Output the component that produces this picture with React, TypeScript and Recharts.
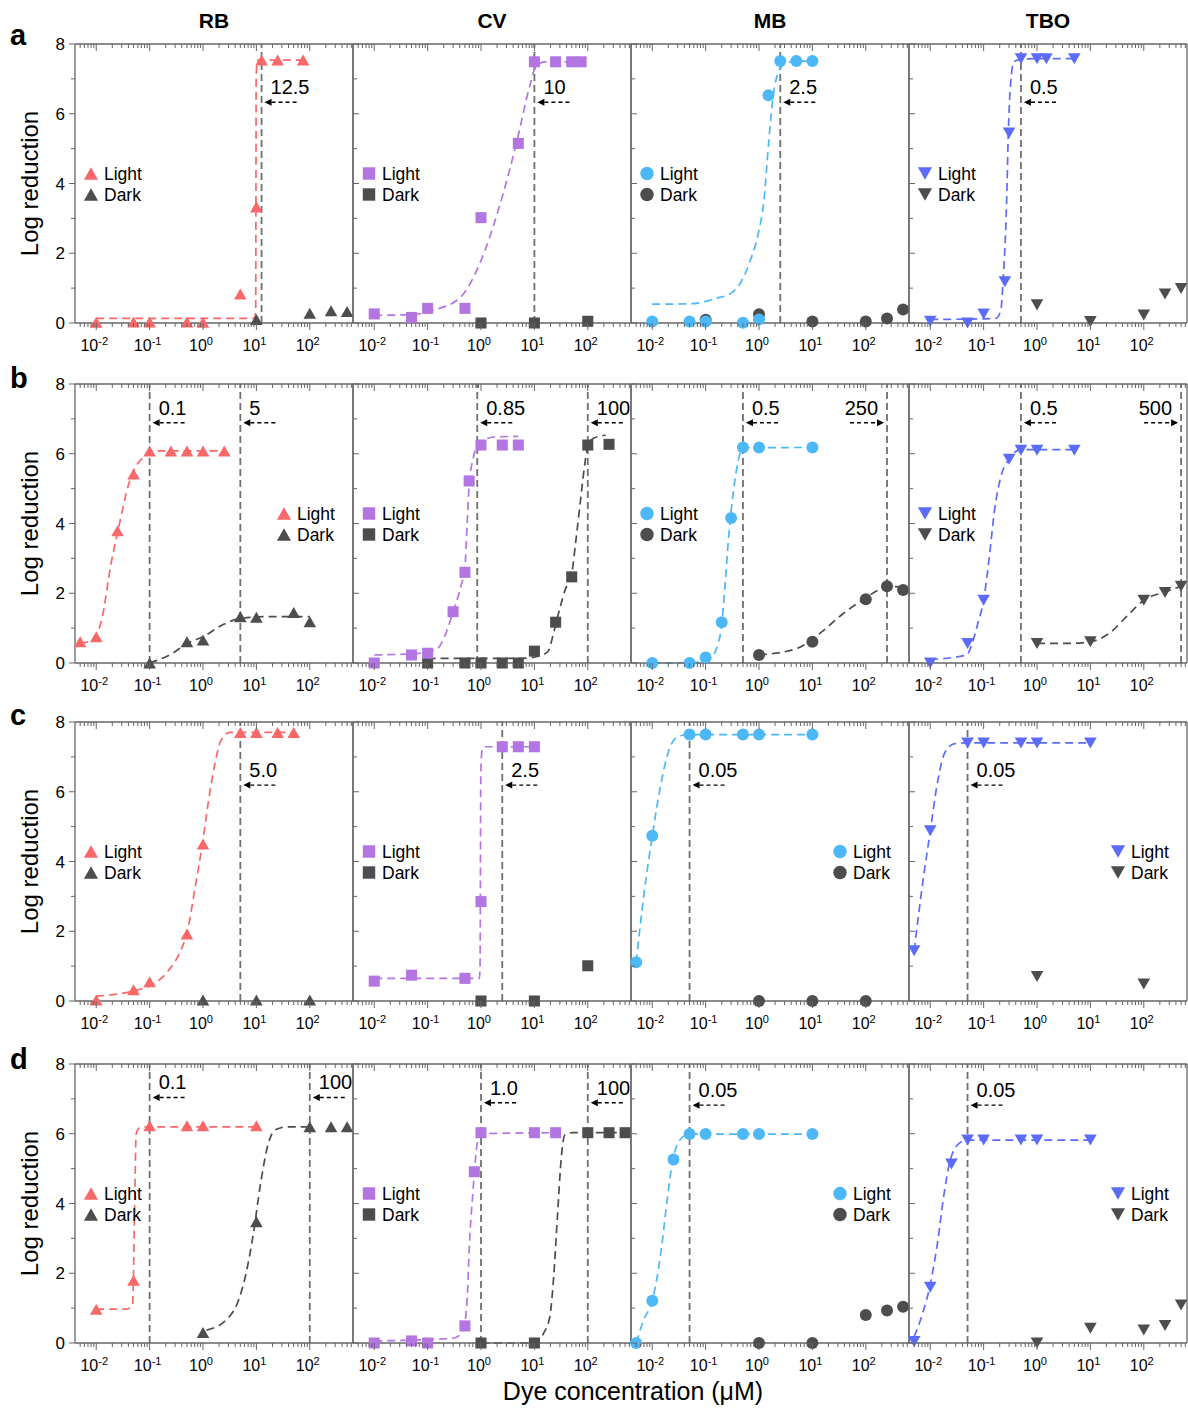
import React from "react";
import { ComposedChart, Line, Scatter, XAxis, YAxis, ReferenceLine } from "recharts";

type Pt = [number, number];

// ---- row a ----
const rbA_light: Pt[] = [[0.01, 0.02], [0.05, 0.03], [0.1, 0.03], [0.5, 0.03], [1, 0.02], [5, 0.83], [10, 3.33], [12.5, 7.54], [25, 7.54], [75, 7.54]];
const rbA_dark: Pt[] = [[10, 0.1], [100, 0.28], [250, 0.35], [500, 0.33]];
const rbA_fit: Pt[] = [[0.01, 0.13], [1, 0.13], [9.2, 0.13], [9.7, 0.35], [9.8, 3.5], [9.9, 7.1], [10.6, 7.54], [25, 7.54], [75, 7.54]];

const cvA_light: Pt[] = [[0.01, 0.26], [0.05, 0.16], [0.1, 0.42], [0.5, 0.42], [1, 3.02], [5, 5.15], [10, 7.49], [25, 7.49], [50, 7.49], [75, 7.49]];
const cvA_dark: Pt[] = [[1, 0], [10, 0], [100, 0.05]];
const cvA_fit: Pt[] = [[0.01, 0.22], [0.05, 0.24], [0.13, 0.37], [0.42, 0.75], [0.95, 1.71], [2.2, 3.33], [4.6, 5.15], [8.1, 6.77], [10.3, 7.3], [15.6, 7.49], [25, 7.49], [75, 7.49]];

const mbA_light: Pt[] = [[0.01, 0.04], [0.05, 0.04], [0.1, 0.04], [0.5, 0.01], [1, 0.1], [1.5, 6.53], [2.5, 7.51], [5, 7.51], [10, 7.51]];
const mbA_dark: Pt[] = [[0.1, 0.09], [1, 0.25], [10, 0.04], [100, 0.04], [250, 0.13], [500, 0.39]];
const mbA_fit: Pt[] = [[0.01, 0.54], [0.05, 0.55], [0.16, 0.71], [0.31, 0.87], [0.5, 1.28], [0.69, 1.8], [0.97, 2.57], [1.24, 3.52], [1.53, 5.24], [1.87, 6.58], [2.4, 7.25], [3.1, 7.44], [5, 7.51], [10, 7.51]];

const tboA_light: Pt[] = [[0.01, 0.05], [0.05, 0], [0.1, 0.26], [0.25, 1.18], [0.3, 5.45], [0.5, 7.58], [1, 7.58], [1.5, 7.58], [5, 7.58]];
const tboA_dark: Pt[] = [[1, 0.52], [10, 0.04], [100, 0.23], [250, 0.83], [500, 0.99]];
const tboA_fit: Pt[] = [[0.01, 0.1], [0.17, 0.13], [0.21, 0.37], [0.23, 1.14], [0.27, 3.52], [0.29, 5.44], [0.32, 6.87], [0.37, 7.49], [0.5, 7.56], [1, 7.58], [5, 7.58]];

// ---- row b ----
const rbB_light: Pt[] = [[0.005, 0.61], [0.01, 0.75], [0.025, 3.79], [0.05, 5.42], [0.1, 6.08], [0.25, 6.08], [0.5, 6.08], [1, 6.08], [2.5, 6.08]];
const rbB_dark: Pt[] = [[0.1, 0], [0.5, 0.61], [1, 0.66], [5, 1.33], [10, 1.31], [50, 1.45], [100, 1.18]];
const rbB_fit: Pt[] = [[0.005, 0.56], [0.0083, 0.66], [0.0126, 1.23], [0.019, 2.86], [0.0265, 3.91], [0.04, 5.1], [0.06, 5.72], [0.085, 5.96], [0.11, 6.08], [2.5, 6.08]];
const rbB_darkFit: Pt[] = [[0.1, 0], [0.27, 0.28], [0.5, 0.56], [1, 0.75], [2.3, 1.09], [5, 1.28], [16.7, 1.33], [100, 1.33]];

const cvB_light: Pt[] = [[0.01, 0], [0.05, 0.23], [0.1, 0.28], [0.3, 1.47], [0.5, 2.6], [0.6, 5.22], [1, 6.25], [2.5, 6.25], [5, 6.25]];
const cvB_dark: Pt[] = [[0.1, 0], [0.5, 0], [1, 0], [2.5, 0], [5, 0], [10, 0.34], [25, 1.17], [50, 2.47], [100, 6.25], [250, 6.27]];
const cvB_fit: Pt[] = [[0.01, 0.23], [0.076, 0.28], [0.15, 0.4], [0.22, 0.85], [0.3, 1.47], [0.42, 2.2], [0.5, 2.75], [0.55, 4.0], [0.6, 5.1], [0.72, 5.9], [0.91, 6.3], [1.8, 6.48], [5, 6.5]];
const cvB_darkFit: Pt[] = [[0.1, 0.13], [5, 0.13], [10, 0.17], [17.8, 0.32], [22.8, 0.85], [29.4, 1.52], [37.5, 2.09], [50, 2.57], [61, 3.62], [72, 4.58], [85, 5.53], [100, 6.2], [130, 6.45], [217, 6.53]];

const mbB_light: Pt[] = [[0.01, 0], [0.05, 0], [0.1, 0.16], [0.2, 1.17], [0.3, 4.16], [0.5, 6.18], [1, 6.18], [10, 6.18]];
const mbB_dark: Pt[] = [[1, 0.23], [10, 0.61], [100, 1.83], [250, 2.2], [500, 2.09]];
const mbB_fit: Pt[] = [[0.01, 0], [0.083, 0.02], [0.13, 0.18], [0.19, 0.85], [0.23, 2.19], [0.27, 3.62], [0.34, 5.05], [0.42, 5.89], [0.5, 6.17], [10, 6.18]];
const mbB_darkFit: Pt[] = [[1, 0.23], [5.2, 0.42], [13.8, 0.85], [38, 1.42], [86, 1.8], [195, 2.12], [378, 2.19], [500, 2.16]];

const tboB_light: Pt[] = [[0.01, 0], [0.05, 0.56], [0.1, 1.8], [0.3, 5.84], [0.5, 6.1], [1, 6.1], [5, 6.1]];
const tboB_dark: Pt[] = [[1, 0.56], [10, 0.61], [100, 1.8], [250, 2.02], [500, 2.2]];
const tboB_fit: Pt[] = [[0.01, 0.1], [0.048, 0.23], [0.061, 0.56], [0.078, 1.14], [0.1, 1.8], [0.13, 3.14], [0.16, 4.38], [0.21, 5.34], [0.3, 5.85], [0.5, 6.12], [5, 6.12]];
const tboB_darkFit: Pt[] = [[1, 0.56], [3.6, 0.56], [10, 0.61], [22.5, 0.85], [51, 1.38], [100, 1.8], [250, 2.04], [500, 2.2]];

// ---- row c ----
const rbC_light: Pt[] = [[0.01, 0.03], [0.05, 0.32], [0.1, 0.55], [0.5, 1.92], [1, 4.5], [5, 7.7], [10, 7.7], [25, 7.7], [50, 7.7]];
const rbC_dark: Pt[] = [[1, 0.03], [10, 0.03], [100, 0.03]];
const rbC_fit: Pt[] = [[0.01, 0.14], [0.05, 0.29], [0.12, 0.49], [0.23, 0.89], [0.37, 1.4], [0.5, 1.95], [0.72, 3.3], [1, 4.62], [1.29, 5.82], [1.66, 6.78], [2.14, 7.45], [3.2, 7.7], [50, 7.7]];

const cvC_light: Pt[] = [[0.01, 0.57], [0.05, 0.74], [0.5, 0.65], [1, 2.85], [2.5, 7.29], [5, 7.29], [10, 7.29]];
const cvC_dark: Pt[] = [[1, 0], [10, 0], [100, 1.01]];
const cvC_fit: Pt[] = [[0.01, 0.65], [0.93, 0.65], [0.96, 1.0], [0.975, 3.5], [0.99, 6.5], [1.05, 7.22], [1.17, 7.29], [10, 7.29]];

const mbC_light: Pt[] = [[0.005, 1.11], [0.01, 4.74], [0.05, 7.64], [0.1, 7.64], [0.5, 7.64], [1, 7.64], [10, 7.64]];
const mbC_dark: Pt[] = [[1, 0], [10, 0], [100, 0]];
const mbC_fit: Pt[] = [[0.005, 1.11], [0.0069, 2.99], [0.01, 4.72], [0.0146, 6.24], [0.0205, 7.19], [0.031, 7.59], [0.05, 7.64], [10, 7.64]];

const tboC_light: Pt[] = [[0.005, 1.44], [0.01, 4.88], [0.05, 7.4], [0.1, 7.4], [0.5, 7.4], [1, 7.4], [10, 7.4]];
const tboC_dark: Pt[] = [[1, 0.7], [100, 0.49]];
const tboC_fit: Pt[] = [[0.005, 1.44], [0.0072, 3.37], [0.01, 4.87], [0.0139, 6.33], [0.019, 7.14], [0.029, 7.38], [0.05, 7.4], [10, 7.4]];

// ---- row d ----
const rbD_light: Pt[] = [[0.01, 0.97], [0.05, 1.8], [0.1, 6.23], [0.5, 6.23], [1, 6.23], [10, 6.23]];
const rbD_dark: Pt[] = [[1, 0.3], [10, 3.48], [100, 6.2], [250, 6.2], [500, 6.2]];
const rbD_fit: Pt[] = [[0.01, 0.97], [0.037, 0.97], [0.048, 1.09], [0.052, 3.62], [0.056, 6.0], [0.066, 6.18], [0.1, 6.2], [10, 6.2]];
const rbD_darkFit: Pt[] = [[1.17, 0.37], [2.7, 0.66], [4.4, 1.14], [6.2, 1.9], [8.6, 3.05], [12, 4.58], [16.7, 5.72], [23.2, 6.12], [38, 6.2], [100, 6.2]];

const cvD_light: Pt[] = [[0.01, 0], [0.05, 0.06], [0.1, 0], [0.5, 0.49], [0.75, 4.91], [1, 6.03], [10, 6.03], [25, 6.03]];
const cvD_dark: Pt[] = [[1, 0], [10, 0], [100, 6.03], [250, 6.03], [500, 6.03]];
const cvD_fit: Pt[] = [[0.01, 0.06], [0.29, 0.13], [0.4, 0.23], [0.5, 0.6], [0.56, 1.5], [0.6, 2.66], [0.71, 4.38], [0.83, 5.62], [0.97, 6.0], [25, 6.03]];
const cvD_darkFit: Pt[] = [[1, 0], [10, 0], [15, 0.29], [19.5, 0.76], [23, 1.91], [27, 3.62], [32, 5.34], [37, 5.96], [52, 6.03], [500, 6.03]];

const mbD_light: Pt[] = [[0.005, 0], [0.01, 1.21], [0.025, 5.26], [0.05, 5.99], [0.1, 5.99], [0.5, 5.99], [1, 5.99], [10, 5.99]];
const mbD_dark: Pt[] = [[1, 0], [10, 0], [100, 0.8], [250, 0.93], [500, 1.04]];
const mbD_fit: Pt[] = [[0.005, 0], [0.0069, 0.66], [0.01, 1.21], [0.0147, 2.66], [0.019, 4.1], [0.024, 5.2], [0.033, 5.82], [0.05, 5.99], [10, 5.99]];

const tboD_light: Pt[] = [[0.005, 0.04], [0.01, 1.6], [0.025, 5.13], [0.05, 5.82], [0.1, 5.82], [0.5, 5.82], [1, 5.82], [10, 5.82]];
const tboD_dark: Pt[] = [[1, 0], [10, 0.42], [100, 0.37], [250, 0.5], [500, 1.09]];
const tboD_fit: Pt[] = [[0.005, 0.18], [0.0072, 0.85], [0.01, 1.68], [0.0139, 2.95], [0.0178, 4.19], [0.0229, 5.15], [0.032, 5.67], [0.048, 5.82], [10, 5.82]];

// MIC reference lines (µM) and their printed labels
const micA = [[12.5], [10], [2.5], [0.5]];
const micTextA = [["12.5"], ["10"], ["2.5"], ["0.5"]];
const micB = [[0.1, 5], [0.85, 100], [0.5, 250], [0.5, 500]];
const micTextB = [["0.1", "5"], ["0.85", "100"], ["0.5", "250"], ["0.5", "500"]];
const micC = [[5], [2.5], [0.05], [0.05]];
const micTextC = [["5.0"], ["2.5"], ["0.05"], ["0.05"]];
const micD = [[0.1, 100], [1, 100], [0.05], [0.05]];
const micTextD = [["0.1", "100"], ["1.0", "100"], ["0.05"], ["0.05"]];

const dyeNames = ["RB", "CV", "MB", "TBO"];
const rowLetters = ["a", "b", "c", "d"];
const seriesNames = ["Light", "Dark"];
const xMajor = [0.01, 0.1, 1, 10, 100];
const xMajorExp = ["-2", "-1", "0", "1", "2"];
const yTicks = [0, 1, 2, 3, 4, 5, 6, 7, 8];
const X_DOMAIN: [number, number] = [0.004, 645];
const decades = [0.001, 0.01, 0.1, 1, 10, 100];
const minorSteps = [1, 2, 3, 4, 5, 6, 7, 8, 9];
const xTicks = decades
  .flatMap((d) => minorSteps.map((m) => d * m))
  .filter((v) => v > X_DOMAIN[0] * 1.01 && v < X_DOMAIN[1]);

interface PanelData {
  light: Pt[];
  dark: Pt[];
  lightFit: Pt[];
  darkFit: Pt[];
  mic: number[];
  micText: string[];
}

const panels: PanelData[][] = [
  [
    { light: rbA_light, dark: rbA_dark, lightFit: rbA_fit, darkFit: [], mic: micA[0], micText: micTextA[0] },
    { light: cvA_light, dark: cvA_dark, lightFit: cvA_fit, darkFit: [], mic: micA[1], micText: micTextA[1] },
    { light: mbA_light, dark: mbA_dark, lightFit: mbA_fit, darkFit: [], mic: micA[2], micText: micTextA[2] },
    { light: tboA_light, dark: tboA_dark, lightFit: tboA_fit, darkFit: [], mic: micA[3], micText: micTextA[3] },
  ],
  [
    { light: rbB_light, dark: rbB_dark, lightFit: rbB_fit, darkFit: rbB_darkFit, mic: micB[0], micText: micTextB[0] },
    { light: cvB_light, dark: cvB_dark, lightFit: cvB_fit, darkFit: cvB_darkFit, mic: micB[1], micText: micTextB[1] },
    { light: mbB_light, dark: mbB_dark, lightFit: mbB_fit, darkFit: mbB_darkFit, mic: micB[2], micText: micTextB[2] },
    { light: tboB_light, dark: tboB_dark, lightFit: tboB_fit, darkFit: tboB_darkFit, mic: micB[3], micText: micTextB[3] },
  ],
  [
    { light: rbC_light, dark: rbC_dark, lightFit: rbC_fit, darkFit: [], mic: micC[0], micText: micTextC[0] },
    { light: cvC_light, dark: cvC_dark, lightFit: cvC_fit, darkFit: [], mic: micC[1], micText: micTextC[1] },
    { light: mbC_light, dark: mbC_dark, lightFit: mbC_fit, darkFit: [], mic: micC[2], micText: micTextC[2] },
    { light: tboC_light, dark: tboC_dark, lightFit: tboC_fit, darkFit: [], mic: micC[3], micText: micTextC[3] },
  ],
  [
    { light: rbD_light, dark: rbD_dark, lightFit: rbD_fit, darkFit: rbD_darkFit, mic: micD[0], micText: micTextD[0] },
    { light: cvD_light, dark: cvD_dark, lightFit: cvD_fit, darkFit: cvD_darkFit, mic: micD[1], micText: micTextD[1] },
    { light: mbD_light, dark: mbD_dark, lightFit: mbD_fit, darkFit: [], mic: micD[2], micText: micTextD[2] },
    { light: tboD_light, dark: tboD_dark, lightFit: tboD_fit, darkFit: [], mic: micD[3], micText: micTextD[3] },
  ],
];

// ---- layout / style ----
const FONT = "'Liberation Sans', Arial, Helvetica, sans-serif";
const dyeColors = ["#F86868", "#B275E1", "#4CB8F8", "#5C6CF9"];
const DARK = "#4D4D4D";
const AXIS = "#666";
const REF = "#707070";
const markerKinds = ["up", "square", "circle", "down"];
const colLeft = [75, 353, 631, 909];
const rowTop = [44, 384, 722, 1064];
const letterBase = [45, 388, 725, 1069];
const PW = 278;
const PH = 279;
const ML = 45;
const MT = 8;
const MR = 8;
const MB = 40;
const legendSide = [
  ["L", "L", "L", "L"],
  ["R", "L", "L", "L"],
  ["L", "L", "R", "R"],
  ["L", "L", "R", "R"],
];
const arrowLevel = [
  [6.33, 6.33, 6.33, 6.33],
  [6.89, 6.89, 6.89, 6.89],
  [6.19, 6.19, 6.19, 6.19],
  [7.04, 6.89, 6.82, 6.82],
];
// side of the MIC label relative to its line
const micTextSide = [
  [["R"], ["R"], ["R"], ["R"]],
  [["R", "R"], ["R", "R"], ["R", "L"], ["R", "L"]],
  [["R"], ["R"], ["R"], ["R"]],
  [["R", "R"], ["R", "R"], ["R"], ["R"]],
];

const toXY = (a: Pt[]) => a.map(([x, y]) => ({ x, y }));
const isMajorX = (v: number) => xMajor.some((m) => Math.abs(v / m - 1) < 1e-6);

function Marker({ kind, cx, cy, s, fill }: { kind: string; cx: number; cy: number; s: number; fill: string }) {
  const hw = (s * 1.05) / 2;
  const hh = (s * 0.92) / 2;
  if (kind === "circle") return <circle cx={cx} cy={cy} r={s / 2} fill={fill} />;
  if (kind === "square") {
    const q = s * 0.92;
    return <rect x={cx - q / 2} y={cy - q / 2} width={q} height={q} fill={fill} />;
  }
  if (kind === "up")
    return <polygon points={`${cx},${cy - hh} ${cx - hw},${cy + hh} ${cx + hw},${cy + hh}`} fill={fill} />;
  return <polygon points={`${cx},${cy + hh} ${cx - hw},${cy - hh} ${cx + hw},${cy - hh}`} fill={fill} />;
}

// bottom axis tick: outward tick + label, plus the matching inward tick on the top frame
function XTick(props: any) {
  const { x, y, payload } = props;
  const v = payload.value as number;
  const major = isMajorX(v);
  const len = major ? 7 : 4;
  const idx = xMajor.findIndex((m) => Math.abs(v / m - 1) < 1e-6);
  return (
    <g>
      <line x1={x} x2={x} y1={y} y2={y + len} stroke={AXIS} strokeWidth={1} />
      <line x1={x} x2={x} y1={y - PH} y2={y - PH + len} stroke={AXIS} strokeWidth={1} />
      {major && (
        <text x={x - 2} y={y + 28} textAnchor="middle" fontSize={16} fontFamily={FONT} fill="#000">
          10
          <tspan dy={-6} fontSize={11}>
            {xMajorExp[idx]}
          </tspan>
        </text>
      )}
    </g>
  );
}

function YTick(props: any) {
  const { x, y, payload, labelled } = props;
  const v = payload.value as number;
  const major = v % 2 === 0;
  const len = major ? 6 : 4;
  if (!labelled) return <line x1={x} x2={x + len} y1={y} y2={y} stroke={AXIS} strokeWidth={1} />;
  return (
    <g>
      <line x1={x - len} x2={x} y1={y} y2={y} stroke={AXIS} strokeWidth={1} />
      {major && (
        <text x={x - 10} y={y} dy="0.36em" textAnchor="end" fontSize={17} fontFamily={FONT} fill="#000">
          {v}
        </text>
      )}
    </g>
  );
}

function MicLabel({ viewBox, text, side, level }: any) {
  if (!viewBox) return null;
  const { x, y, height } = viewBox;
  const ay = y + ((8 - level) / 8) * height;
  if (side === "R") {
    return (
      <g>
        <text x={x + 9} y={ay - 8} fontSize={20} fontFamily={FONT} fill="#000">
          {text}
        </text>
        <line x1={x + 35} x2={x + 9} y1={ay} y2={ay} stroke="#000" strokeWidth={1.4} strokeDasharray="4 3" />
        <polygon points={`${x + 3},${ay} ${x + 10},${ay - 3.5} ${x + 10},${ay + 3.5}`} fill="#000" />
      </g>
    );
  }
  return (
    <g>
      <text x={x - 9} y={ay - 8} textAnchor="end" fontSize={20} fontFamily={FONT} fill="#000">
        {text}
      </text>
      <line x1={x - 37} x2={x - 9} y1={ay} y2={ay} stroke="#000" strokeWidth={1.4} strokeDasharray="4 3" />
      <polygon points={`${x - 3},${ay} ${x - 10},${ay - 3.5} ${x - 10},${ay + 3.5}`} fill="#000" />
    </g>
  );
}

function Panel({ r, c }: { r: number; c: number }) {
  const p = panels[r][c];
  const color = dyeColors[c];
  const kind = markerKinds[c];
  const shape = (fill: string) => (sp: any) => <Marker kind={kind} cx={sp.cx} cy={sp.cy} s={12} fill={fill} />;
  const axisLine = { stroke: AXIS, strokeWidth: 1.3 };
  return (
    <div style={{ position: "absolute", left: colLeft[c] - ML, top: rowTop[r] - MT }}>
      <ComposedChart width={PW + ML + MR} height={PH + MT + MB} margin={{ top: MT, right: MR, bottom: 0, left: 0 }}>
        <XAxis
          dataKey="x"
          type="number"
          scale="log"
          domain={X_DOMAIN}
          ticks={xTicks}
          interval={0}
          height={MB}
          tickSize={0}
          tickMargin={0}
          tickLine={false}
          axisLine={axisLine}
          tick={(t: any) => <XTick {...t} />}
        />
        <YAxis
          dataKey="y"
          type="number"
          domain={[0, 8]}
          ticks={yTicks}
          interval={0}
          width={ML}
          tickSize={0}
          tickMargin={0}
          tickLine={false}
          axisLine={axisLine}
          tick={(t: any) => <YTick {...t} labelled={c === 0} />}
        />
        {/* top and right frame */}
        <ReferenceLine y={8} stroke={AXIS} strokeWidth={1.3} />
        <ReferenceLine x={X_DOMAIN[1]} stroke={AXIS} strokeWidth={1.3} />
        {p.mic.map((m, i) => (
          <ReferenceLine
            key={`mic-${i}`}
            x={m}
            stroke={REF}
            strokeWidth={1.8}
            strokeDasharray="7 4"
            label={(lp: any) => (
              <MicLabel viewBox={lp.viewBox} text={p.micText[i]} side={micTextSide[r][c][i]} level={arrowLevel[r][c]} />
            )}
          />
        ))}
        {p.darkFit.length > 0 && (
          <Line
            data={toXY(p.darkFit)}
            dataKey="y"
            type="monotone"
            stroke={DARK}
            strokeWidth={1.7}
            strokeDasharray="8 5"
            dot={false}
            activeDot={false}
            isAnimationActive={false}
          />
        )}
        <Line
          data={toXY(p.lightFit)}
          dataKey="y"
          type="monotone"
          stroke={color}
          strokeWidth={1.7}
          strokeDasharray="8 5"
          dot={false}
          activeDot={false}
          isAnimationActive={false}
        />
        <Scatter data={toXY(p.dark)} shape={shape(DARK)} isAnimationActive={false} />
        <Scatter data={toXY(p.light)} shape={shape(color)} isAnimationActive={false} />
      </ComposedChart>
    </div>
  );
}

export default function App() {
  return (
    <div
      style={{ position: "absolute", left: 0, top: 0, width: 1188, height: 1409, overflow: "hidden", background: "#fff" }}
    >
      {rowTop.map((_, r) => dyeNames.map((_, c) => <Panel key={`${r}-${c}`} r={r} c={c} />))}
      <svg
        width={1188}
        height={1409}
        style={{ position: "absolute", left: 0, top: 0, pointerEvents: "none" }}
        fontFamily={FONT}
      >
        {dyeNames.map((n, c) => (
          <text key={n} x={colLeft[c] + PW / 2} y={28} textAnchor="middle" fontSize={21} fontWeight="bold">
            {n}
          </text>
        ))}
        {rowLetters.map((l, r) => (
          <text key={l} x={10} y={letterBase[r]} fontSize={29} fontWeight="bold">
            {l}
          </text>
        ))}
        {rowTop.map((t, r) => (
          <text key={`yl-${r}`} transform={`translate(38 ${t + PH / 2}) rotate(-90)`} textAnchor="middle" fontSize={24}>
            Log reduction
          </text>
        ))}
        <text x={633} y={1400} textAnchor="middle" fontSize={25}>
          Dye concentration (μM)
        </text>
        {rowTop.map((t, r) =>
          dyeNames.map((_, c) => {
            const lx = colLeft[c] + (legendSide[r][c] === "L" ? 16 : 209);
            const ly = t + 129.5;
            return (
              <g key={`lg-${r}-${c}`}>
                {seriesNames.map((s, i) => (
                  <g key={s}>
                    <Marker kind={markerKinds[c]} cx={lx} cy={ly + i * 21} s={13.5} fill={i === 0 ? dyeColors[c] : DARK} />
                    <text x={lx + 13} y={ly + i * 21 + 6.5} fontSize={17.5}>
                      {s}
                    </text>
                  </g>
                ))}
              </g>
            );
          })
        )}
      </svg>
    </div>
  );
}
